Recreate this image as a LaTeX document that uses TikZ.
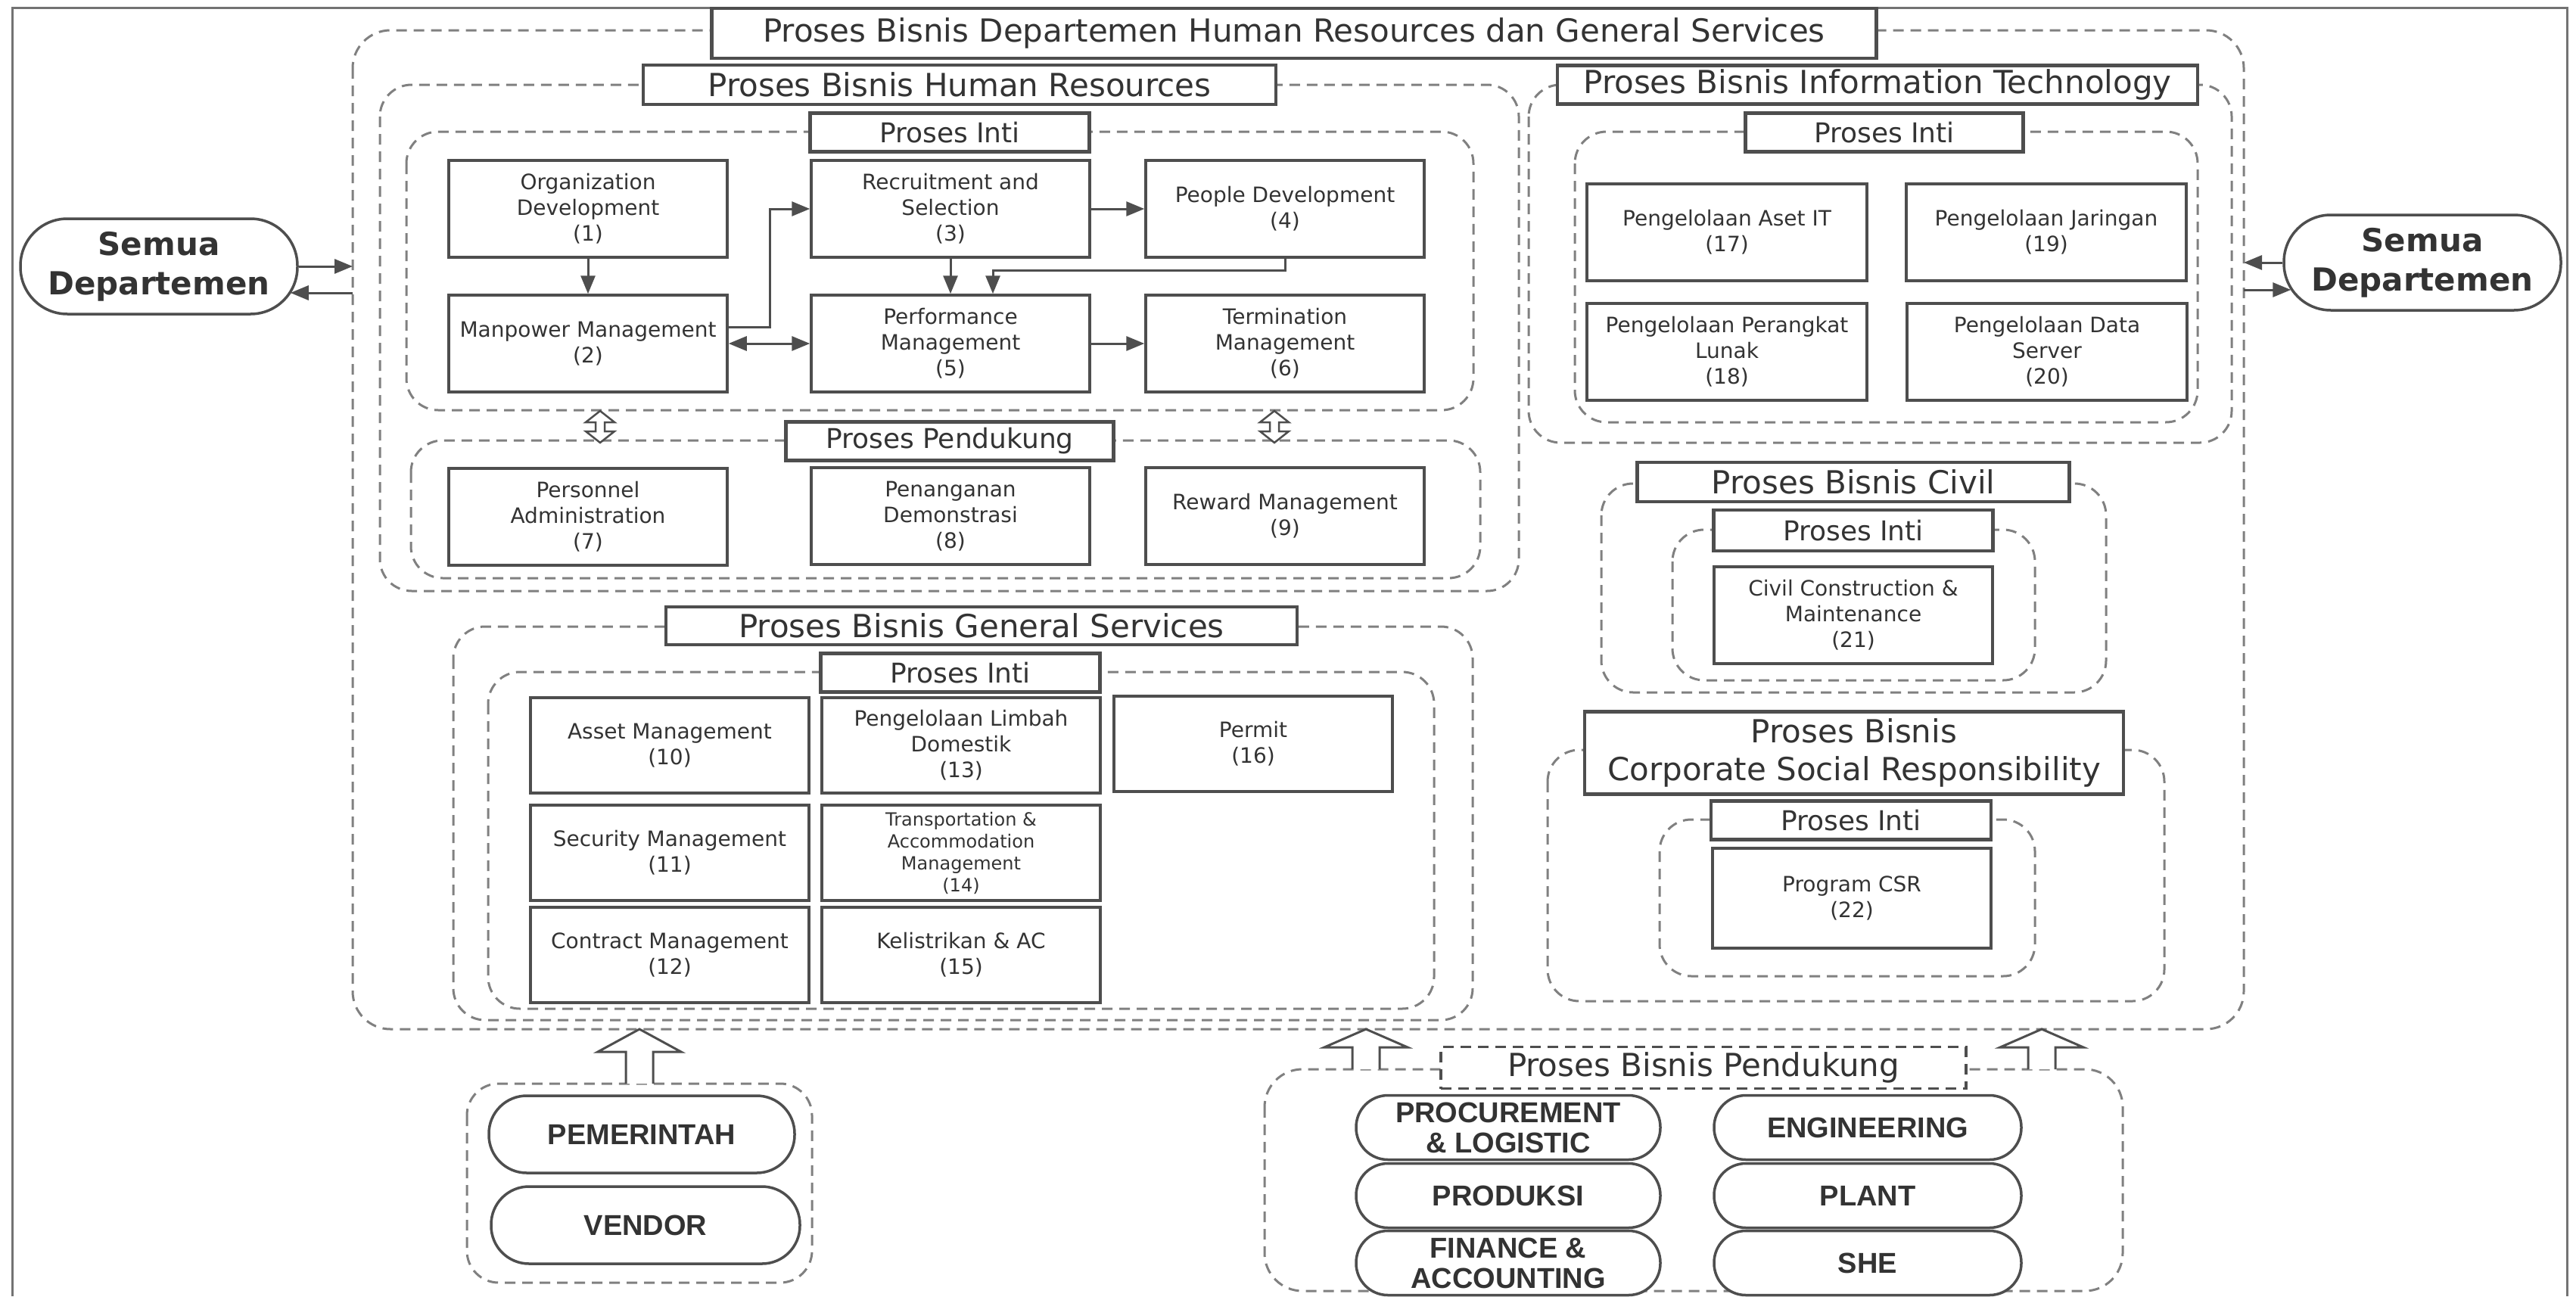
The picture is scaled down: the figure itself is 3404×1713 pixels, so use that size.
\documentclass[tikz,border=0pt]{standalone}
\usepackage{fontspec}
\setmainfont{DejaVu Sans}
\newfontfamily\arialfont{Liberation Sans}
\usepackage{xcolor}
\usepackage{tikz}
\usetikzlibrary{arrows.meta}
\definecolor{garis}{HTML}{4E4E4E}
\definecolor{putus}{HTML}{808080}
\definecolor{teks}{HTML}{333333}
\tikzset{
  kotak/.style={draw=garis, line width=3.5pt, fill=white, minimum width=368pt, minimum height=128pt,
    inner sep=0pt, align=center, text=teks, font=\fontsize{28}{34}\selectfont},
  judul/.style={draw=garis, line width=4.5pt, fill=white, inner sep=0pt, align=center, text=teks,
    font=\fontsize{42}{50}\selectfont},
  subjudul/.style={judul, minimum width=369pt, minimum height=51pt, font=\fontsize{36}{42}\selectfont},
  grup/.style={draw=putus, line width=3pt, dash pattern=on 14pt off 9pt, rounded corners=42pt},
  semua/.style={draw=garis, line width=3.5pt, fill=white, rounded corners=62pt, minimum width=366pt,
    minimum height=126pt, inner sep=0pt, align=center, text=teks, font=\fontsize{42}{52}\selectfont\bfseries},
  pihak/.style={draw=garis, line width=3.5pt, fill=white, rounded corners=42pt, inner sep=0pt,
    align=center, text=teks, font=\arialfont\fontsize{38}{40}\selectfont\bfseries},
  panah/.style={draw=garis, line width=3pt, -{Triangle[length=24pt,width=19pt]}},
  panahdua/.style={panah, {Triangle[length=24pt,width=19pt]}-{Triangle[length=24pt,width=19pt]}},
  blok/.style={draw=garis, line width=3pt, fill=white, line join=miter},
}

\begin{document}
\begin{tikzpicture}[x=1pt,y=-1pt]
\useasboundingbox (0,0) rectangle (3404,1713);
% bingkai scan
\draw [draw=black!55, line width=3pt] (16,1713) -- (16,10) -- (3392,10) -- (3392,1713);
% grup putus-putus
\draw [grup, rounded corners=50pt] (466,40) rectangle (2965,1360);
\draw [grup] (502,112) rectangle (2007,781);
\draw [grup] (537,174) rectangle (1947,542);
\draw [grup] (543,582) rectangle (1956,764);
\draw [grup] (2020,112) rectangle (2949,585);
\draw [grup] (2081,174) rectangle (2904,558);
\draw [grup] (599,828) rectangle (1946,1348);
\draw [grup] (645,888) rectangle (1895,1333);
\draw [grup] (2116,639) rectangle (2783,915);
\draw [grup] (2210,700) rectangle (2689,899);
\draw [grup] (2045,991) rectangle (2860,1323);
\draw [grup] (2193,1083) rectangle (2689,1290);
\draw [grup] (617,1432) rectangle (1073,1695);
\draw [grup, rounded corners=50pt] (1671,1413) rectangle (2805,1706);
% panah blok
\draw [blok] (827,1432) -- (827,1390) -- (790,1390) -- (845,1360) -- (900,1390) -- (863,1390) -- (863,1432);
\draw [blok] (1787,1413) -- (1787,1384) -- (1750,1384) -- (1805,1360) -- (1860,1384) -- (1823,1384) -- (1823,1413);
\draw [blok] (2680,1413) -- (2680,1384) -- (2643,1384) -- (2698,1360) -- (2753,1384) -- (2716,1384) -- (2716,1413);
% panah dua arah kecil
\draw [blok, line width=2.5pt] (793,543) -- (812,558) -- (799,558) -- (799,570) -- (812,570) -- (793,585) -- (774,570) -- (787,570) -- (787,558) -- (774,558) -- cycle;
\draw [blok, line width=2.5pt] (1684,543) -- (1703,558) -- (1690,558) -- (1690,570) -- (1703,570) -- (1684,585) -- (1665,570) -- (1678,570) -- (1678,558) -- (1665,558) -- cycle;
%Text
\node [judul, minimum width=1539pt, minimum height=66pt] (utama) at (1710,44) {Proses Bisnis Departemen Human Resources dan General Services};
\node [judul, minimum width=836pt, minimum height=52pt] (hr) at (1268,112) {Proses Bisnis Human Resources};
\node [subjudul] (hrInti) at (1255,175) {Proses Inti};
\node [subjudul, minimum width=433pt] (hrPendukung) at (1255,583) {Proses Pendukung};
\node [judul, minimum width=846pt, minimum height=51pt] (it) at (2481,112) {Proses Bisnis Information Technology};
\node [subjudul, minimum width=367pt] (itInti) at (2490,175) {Proses Inti};
\node [judul, minimum width=834pt, minimum height=50pt] (gs) at (1297,827) {Proses Bisnis General Services};
\node [subjudul] (gsInti) at (1269,889) {Proses Inti};
\node [judul, minimum width=571pt, minimum height=52pt] (civil) at (2449,637) {Proses Bisnis Civil};
\node [subjudul, minimum height=54pt] (civilInti) at (2449,701) {Proses Inti};
\node [judul, minimum width=712pt, minimum height=109pt] (csr) at (2450,995) {Proses Bisnis\\Corporate Social Responsibility};
\node [subjudul, minimum width=370pt] (csrInti) at (2446,1084) {Proses Inti};
\node [judul, dash pattern=on 14pt off 9pt, line width=3.5pt, minimum width=694pt, minimum height=55pt] (pendukung) at (2251,1411) {Proses Bisnis Pendukung};
% human resources
\node [kotak] (od) at (777,276) {Organization\\Development\\(1)};
\node [kotak] (mp) at (777,454) {Manpower Management\\(2)};
\node [kotak] (rs) at (1256,276) {Recruitment and\\Selection\\(3)};
\node [kotak] (pd) at (1698,276) {People Development\\(4)};
\node [kotak] (pm) at (1256,454) {Performance\\Management\\(5)};
\node [kotak] (tm) at (1698,454) {Termination\\Management\\(6)};
\node [kotak] (pa) at (777,683) {Personnel\\Administration\\(7)};
\node [kotak] (pdm) at (1256,682) {Penanganan\\Demonstrasi\\(8)};
\node [kotak] (rm) at (1698,682) {Reward Management\\(9)};
% general services
\node [kotak, minimum height=126pt] (am) at (885,985) {Asset Management\\(10)};
\node [kotak, minimum height=126pt] (sm) at (885,1127) {Security Management\\(11)};
\node [kotak, minimum height=126pt] (cm) at (885,1262) {Contract Management\\(12)};
\node [kotak, minimum height=126pt] (ld) at (1270,985) {Pengelolaan Limbah\\Domestik\\(13)};
\node [kotak, minimum height=126pt, font=\fontsize{24}{29}\selectfont] (ta) at (1270,1127) {Transportation \&\\Accommodation\\Management\\(14)};
\node [kotak, minimum height=126pt] (ka) at (1270,1262) {Kelistrikan \& AC\\(15)};
\node [kotak, minimum height=126pt] (pr) at (1656,983) {Permit\\(16)};
% information technology
\node [kotak, minimum width=370pt] (it17) at (2282,307) {Pengelolaan Aset IT\\(17)};
\node [kotak, minimum width=370pt] (it19) at (2704,307) {Pengelolaan Jaringan\\(19)};
\node [kotak, minimum width=370pt] (it18) at (2282,465) {Pengelolaan Perangkat\\Lunak\\(18)};
\node [kotak, minimum width=370pt] (it20) at (2705,465) {Pengelolaan Data\\Server\\(20)};
% civil dan csr
\node [kotak] (cv) at (2449,813) {Civil Construction \&\\Maintenance\\(21)};
\node [kotak, minimum height=132pt] (prog) at (2447,1187) {Program CSR\\(22)};
% semua departemen
\node [semua] (semuaKiri) at (210,352) {Semua\\Departemen};
\node [semua] (semuaKanan) at (3201,347) {Semua\\Departemen};
% pihak luar
\node [pihak, rounded corners=50pt, minimum width=404pt, minimum height=102pt] (pemerintah) at (848,1499) {PEMERINTAH};
\node [pihak, rounded corners=50pt, minimum width=408pt, minimum height=102pt] (vendor) at (853,1619) {VENDOR};
\node [pihak, minimum width=402pt, minimum height=85pt] (proc) at (1993,1490) {PROCUREMENT\\\& LOGISTIC};
\node [pihak, minimum width=406pt, minimum height=85pt] (eng) at (2468,1490) {ENGINEERING};
\node [pihak, minimum width=402pt, minimum height=85pt] (prod) at (1993,1580) {PRODUKSI};
\node [pihak, minimum width=406pt, minimum height=85pt] (plant) at (2468,1580) {PLANT};
\node [pihak, minimum width=402pt, minimum height=85pt] (fin) at (1993,1669) {FINANCE \&\\ACCOUNTING};
\node [pihak, minimum width=406pt, minimum height=85pt] (she) at (2468,1669) {SHE};
% panah
\coordinate (masukKiri) at (466,352);
\coordinate (keluarKiri) at (466,387);
\coordinate (masukKanan) at (2965,347);
\coordinate (keluarKanan) at (2965,383);
\draw [panah] (semuaKiri.east) -- (masukKiri);
\draw [panah] (keluarKiri) -- ([xshift=-11pt,yshift=-35pt]semuaKiri.east);
\draw [panah] (semuaKanan.west) -- (masukKanan);
\draw [panah] (keluarKanan) -- ([xshift=11pt,yshift=-36pt]semuaKanan.west);
\draw [panah] (od) -- (mp);
\draw [panah] ([yshift=22pt]mp.east) -- ++(55,0) |- (rs.west);
\draw [panahdua] (mp) -- (pm);
\draw [panah] (rs) -- (pd);
\draw [panah] (rs) -- (pm);
\draw [panah] (pd.south) -- ++(0,16) -| ([xshift=56pt]pm.north);
\draw [panah] (pm) -- (tm);
\end{tikzpicture}
\end{document}
